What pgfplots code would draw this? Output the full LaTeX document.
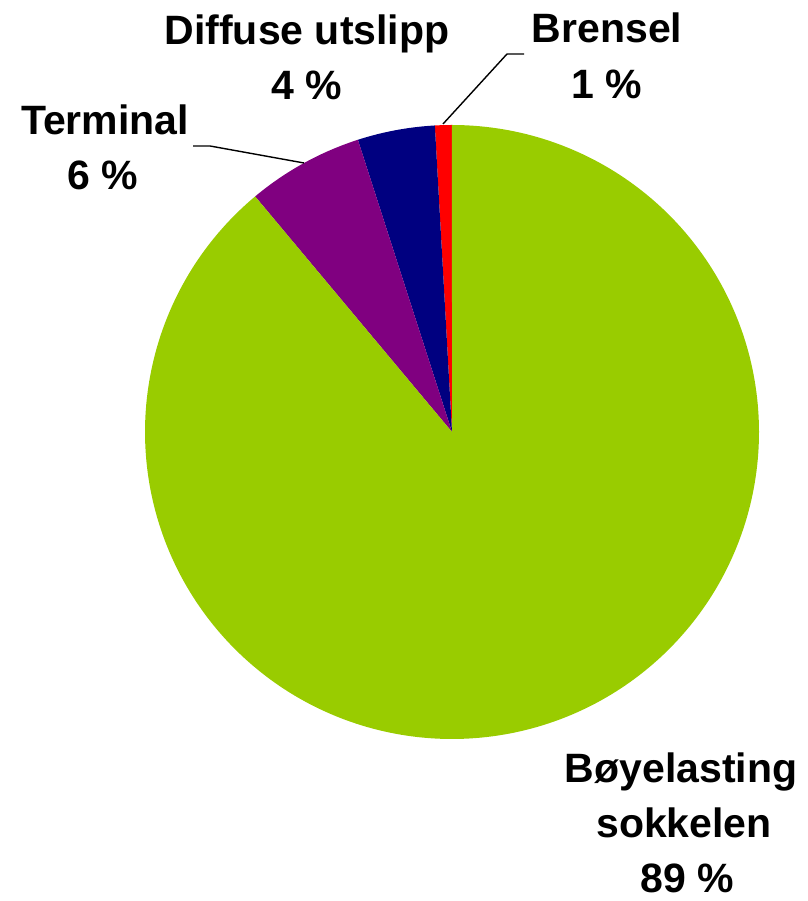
\documentclass[border=0pt]{standalone}
\usepackage{pgfplots}
\pgfplotsset{compat=1.18}
\usepackage{fontspec}
\setmainfont{Liberation Sans}
\definecolor{cgreen}{RGB}{153,204,0}
\definecolor{cpurple}{RGB}{128,0,128}
\definecolor{cnavy}{RGB}{0,0,128}
\definecolor{cred}{RGB}{255,0,0}
% shares in percent (Brensel, Diffuse utslipp, Terminal, Bøyelasting sokkelen)
\def\vBrensel{0.89}
\def\vDiffuse{4.07}
\def\vTerminal{6.12}
\def\vBoye{88.92}
\pgfmathsetmacro{\aA}{90}
\pgfmathsetmacro{\aB}{\aA+3.6*\vBrensel}
\pgfmathsetmacro{\aC}{\aB+3.6*\vDiffuse}
\pgfmathsetmacro{\aD}{\aC+3.6*\vTerminal}
\pgfmathsetmacro{\aE}{\aD+3.6*\vBoye}
\begin{document}
\begin{tikzpicture}
\begin{axis}[
  width=807pt, height=901pt, scale only axis,
  xmin=0, xmax=807, ymin=0, ymax=901,
  hide axis, clip=false,
]
\path (0,0) rectangle (807,901);
\addplot[fill=cred, draw=none, domain=\aA:\aB, samples=10] ({452+307*cos(x)},{469+307*sin(x)}) -- (452,469) -- cycle;
\addplot[fill=cnavy, draw=none, domain=\aB:\aC, samples=30] ({452+307*cos(x)},{469+307*sin(x)}) -- (452,469) -- cycle;
\addplot[fill=cpurple, draw=none, domain=\aC:\aD, samples=40] ({452+307*cos(x)},{469+307*sin(x)}) -- (452,469) -- cycle;
\addplot[fill=cgreen, draw=none, domain=\aD:\aE, samples=300] ({452+307*cos(x)},{469+307*sin(x)}) -- (452,469) -- cycle;
% leader lines
\draw[black, line width=1.4pt] (524,847) -- (507,847) -- (443,777);
\draw[black, line width=1.4pt] (193,755) -- (210,755) -- (304,738);
% labels
\tikzset{lab/.style={anchor=base, inner sep=0pt, font=\bfseries\fontsize{41}{48}\selectfont}}
\node[lab] at (307,856) {Diffuse utslipp};
\node[lab] at (307,801) {4 \%};
\node[lab] at (607,858) {Brensel};
\node[lab] at (607,802) {1 \%};
\node[lab] at (105,766) {Terminal};
\node[lab] at (103,711) {6 \%};
\node[lab] at (681,118) {Bøyelasting};
\node[lab] at (684,63) {sokkelen};
\node[lab] at (687,9) {89 \%};
\end{axis}
\end{tikzpicture}
\end{document}
